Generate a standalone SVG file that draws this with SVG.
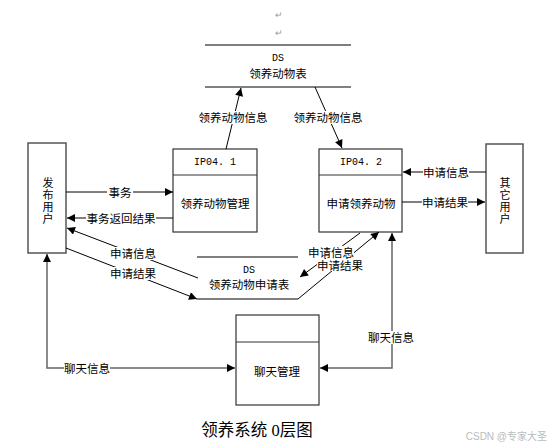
<svg xmlns="http://www.w3.org/2000/svg" width="551" height="447" viewBox="0 0 551 447">
<style>
.t{font-family:"Noto Sans CJK SC","Liberation Sans",sans-serif;font-size:11.5px;fill:#000;text-anchor:middle;dominant-baseline:central}
.v{font-family:"Noto Sans CJK SC","Liberation Sans",sans-serif;font-size:11px;fill:#000;text-anchor:middle;writing-mode:vertical-rl;letter-spacing:1px}
.m{font-family:"Liberation Mono","Noto Sans CJK SC",monospace;font-size:10px;fill:#000;text-anchor:middle;dominant-baseline:central}
.box{fill:#fff;stroke:#333;stroke-width:1.2}
.ent{fill:#fff;stroke:#555;stroke-width:1.5}
.c{fill:none;stroke:#000;stroke-width:1}
.g{fill:none;stroke:#666;stroke-width:1.5}
.bg{fill:#fff}
</style>
<defs>
<marker id="ah" viewBox="0 0 10 10" refX="10" refY="5" markerWidth="11" markerHeight="8" markerUnits="userSpaceOnUse" orient="auto-start-reverse">
<path d="M0,0 L10,5 L0,10 z" fill="#000"/>
</marker>
</defs>
<rect width="551" height="447" fill="#fff"/>

<!-- top data store -->
<g id="ds1">
<text x="279" y="14" class="t" style="font-size:9px;fill:#999">↵</text>
<text x="279" y="32" class="t" style="font-size:9px;fill:#999">↵</text>
<line x1="205" y1="45" x2="351" y2="45" stroke="#000" stroke-width="1.2"/>
<line x1="205" y1="87" x2="351" y2="87" stroke="#808080" stroke-width="2"/>
<text x="278" y="58" class="m">DS</text>
<text x="278" y="73" class="t">领养动物表</text>
</g>

<!-- entities -->
<g id="publisher">
<rect x="28" y="143" width="38" height="110" class="ent"/>
<text x="48" y="201" class="v">发布用户</text>
</g>
<g id="otheruser">
<rect x="486" y="144" width="37" height="109" class="ent"/>
<text x="505" y="201" class="v">其它用户</text>
</g>

<!-- processes -->
<g id="ip041">
<rect x="173" y="149" width="84" height="83" class="box"/>
<line x1="173" y1="175" x2="257" y2="175" stroke="#333" stroke-width="1.2"/>
<text x="215" y="162" class="m">IP04. 1</text>
<text x="215" y="203" class="t">领养动物管理</text>
</g>
<g id="ip042">
<rect x="319" y="149" width="83" height="83" class="box"/>
<line x1="319" y1="175" x2="402" y2="175" stroke="#333" stroke-width="1.2"/>
<text x="361" y="162" class="m">IP04. 2</text>
<text x="361" y="203" class="t">申请领养动物</text>
</g>
<g id="chat">
<rect x="236" y="315" width="83" height="90" class="box"/>
<line x1="236" y1="342" x2="319" y2="342" stroke="#333" stroke-width="1.2"/>
<text x="277" y="371" class="t">聊天管理</text>
</g>

<!-- application data store -->
<g id="ds2">
<line x1="197" y1="257" x2="298" y2="257" stroke="#000" stroke-width="1"/>
<text x="249" y="270" class="m">DS</text>
<text x="249" y="284" class="t">领养动物申请表</text>
</g>

<!-- connectors -->
<g id="connectors">
<path class="c" d="M226,149 L241,88" marker-end="url(#ah)"/>
<path class="c" d="M315,87 L342,148" marker-end="url(#ah)"/>
<path class="c" d="M66,192 L173,192" marker-end="url(#ah)"/>
<path class="c" d="M173,218 L67,218" marker-end="url(#ah)"/>
<path class="c" d="M198,278 L67,228" marker-end="url(#ah)"/>
<path class="c" d="M66,248 L197,299" marker-end="url(#ah)"/>
<path class="c" d="M197,299 L298,299 L379,232" marker-end="url(#ah)"/>
<path class="c" d="M360,233 L300,277" marker-end="url(#ah)"/>
<path class="c" d="M486,172 L403,172" marker-end="url(#ah)"/>
<path class="c" d="M402,202 L485,202" marker-end="url(#ah)"/>
<path class="g" d="M47,254 L47,368 L235,368" marker-start="url(#ah)" marker-end="url(#ah)"/>
<path class="g" d="M320,368 L392,368 L392,233" marker-start="url(#ah)" marker-end="url(#ah)"/>

<rect class="bg" x="197" y="111" width="72" height="13"/>
<text x="233" y="117" class="t">领养动物信息</text>
<rect class="bg" x="292" y="111" width="72" height="13"/>
<text x="328" y="117" class="t">领养动物信息</text>
<rect class="bg" x="107" y="186" width="26" height="13"/>
<text x="120" y="192" class="t">事务</text>
<rect class="bg" x="86" y="212" width="70" height="13"/>
<text x="121" y="218" class="t">事务返回结果</text>
<rect class="bg" x="110" y="247" width="46" height="13"/>
<text x="133" y="253" class="t">申请信息</text>
<rect class="bg" x="110" y="267" width="46" height="13"/>
<text x="133" y="273" class="t">申请结果</text>
<rect class="bg" x="308" y="246" width="46" height="12"/>
<text x="331" y="252" class="t">申请信息</text>
<rect class="bg" x="317" y="259" width="46" height="12"/>
<text x="340" y="265" class="t">申请结果</text>
<rect class="bg" x="423" y="166" width="46" height="13"/>
<text x="446" y="172" class="t">申请信息</text>
<rect class="bg" x="422" y="196" width="46" height="13"/>
<text x="445" y="202" class="t">申请结果</text>
<rect class="bg" x="64" y="362" width="46" height="13"/>
<text x="87" y="368" class="t">聊天信息</text>
<rect class="bg" x="368" y="331" width="46" height="13"/>
<text x="391" y="337" class="t">聊天信息</text>
</g>

<text x="257" y="430" style="font-family:'Liberation Serif','Noto Sans CJK SC',serif;font-size:16.5px;text-anchor:middle;dominant-baseline:central">领养系统 0层图</text>
<text x="547" y="436" style="font-family:'Liberation Sans','Noto Sans CJK SC',sans-serif;font-size:10px;fill:#bbb;text-anchor:end;dominant-baseline:central">CSDN @专家大圣</text>
</svg>
